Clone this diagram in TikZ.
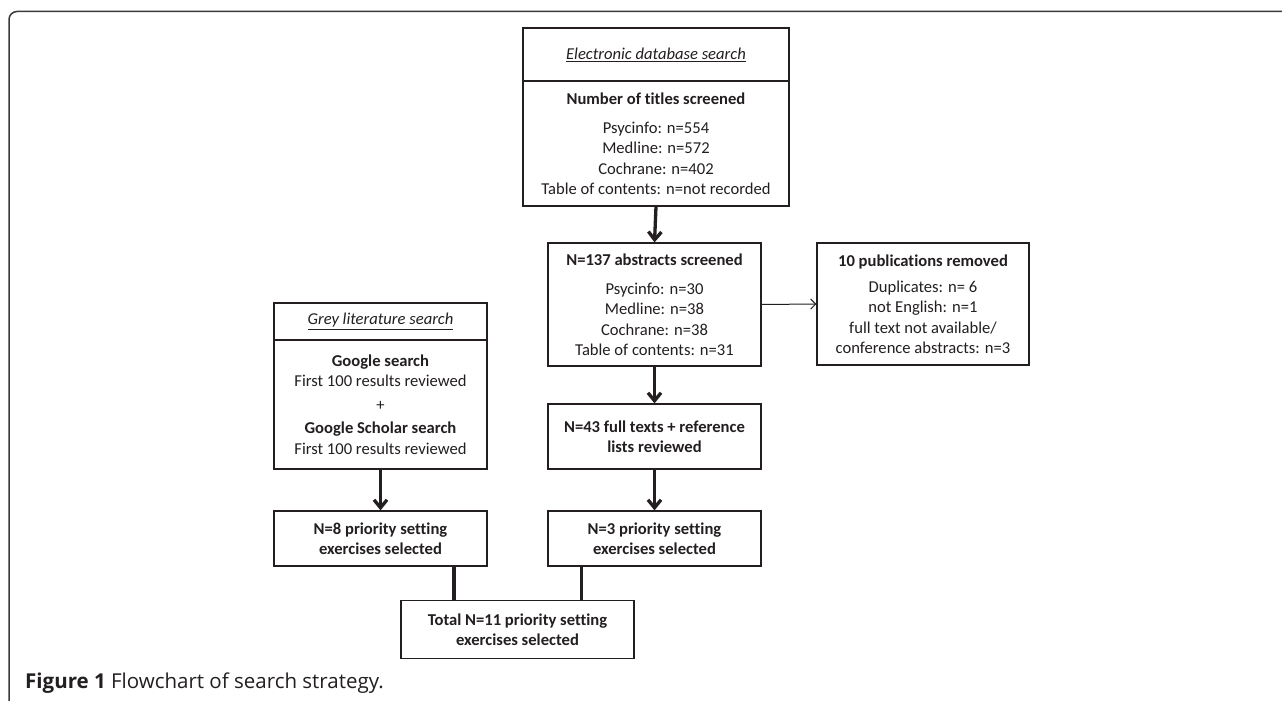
\documentclass[tikz,border=0pt]{standalone}
\usepackage{fontspec}
\setmainfont{Carlito}[Ligatures={NoCommon}]
\newfontfamily\capfont{Open Sans}
\usetikzlibrary{arrows.meta}
\definecolor{ink}{HTML}{231F20}
\definecolor{framec}{HTML}{3A3A3A}
\begin{document}
\begin{tikzpicture}[x=1pt,y=-1pt,
  every node/.style={text=ink},
  box/.style={draw=ink, line width=1.2pt, fill=white, inner sep=0pt, align=center,
    font=\fontsize{16.6}{20.5}\selectfont},
  thickarrow/.style={draw=ink, line width=3.3pt, -{Straight Barb[length=8pt,width=13pt]}},
  thinarrow/.style={draw=ink, line width=1pt, -{Straight Barb[length=5pt,width=10pt]}},
  thickline/.style={draw=ink, line width=3.5pt},
  framestyle/.style={draw=framec, line width=1.5pt, rounded corners=8pt}
]
\useasboundingbox (0,0) rectangle (1282,701);
\fill[white] (0,0) rectangle (1282,701);
\draw[framestyle] (1295,11.5) -- (9,11.5) -- (9,712);

% top: electronic database search
\node[box, minimum width=266pt, minimum height=53pt] (edbh) at (656,54.5)
  {\textit{\underline{Electronic database search}}};
\node[box, minimum width=266pt, minimum height=125pt] (edb) at (656,143.5)
  {\textbf{Number of titles screened}\\[8.5pt]
   Psycinfo: n=554\\ Medline: n=572\\ Cochrane: n=402\\ Table of contents: n=not recorded};

% abstracts
\node[box, minimum width=213pt, minimum height=123pt] (abs) at (654.5,304.5)
  {\textbf{N=137 abstracts screened}\\[8.5pt]
   Psycinfo: n=30\\ Medline: n=38\\ Cochrane: n=38\\ Table of contents: n=31};

% removed
\node[box, minimum width=212pt, minimum height=122pt] (rem) at (923,304)
  {\textbf{10 publications removed}\\[5.5pt]
   Duplicates: n= 6\\ not English: n=1\\ full text not available/\\ conference abstracts: n=3};

% grey literature
\node[box, minimum width=213pt, minimum height=37pt] (greyh) at (380.5,321.5)
  {\textit{\underline{Grey literature search}}};
\node[box, minimum width=213pt, minimum height=129pt] (grey) at (380.5,404.5)
  {\textbf{Google search}\\ First 100 results reviewed\\[3pt] +\\[3pt]
   \textbf{Google Scholar search}\\ First 100 results reviewed};

% full texts
\node[box, minimum width=213pt, minimum height=65pt] (full) at (654.5,436.5)
  {\textbf{N=43 full texts + reference}\\ \textbf{lists reviewed}};

% selected
\node[box, minimum width=213pt, minimum height=55pt] (n8) at (380.5,538.5)
  {\textbf{N=8 priority setting}\\ \textbf{exercises selected}};
\node[box, minimum width=213pt, minimum height=55pt] (n3) at (654.5,538.5)
  {\textbf{N=3 priority setting}\\ \textbf{exercises selected}};

% total
\node[box, minimum width=233pt, minimum height=58pt] (total) at (517.5,629.5)
  {\textbf{Total N=11 priority setting}\\ \textbf{exercises selected}};

% connectors
\draw[thickarrow] (edb.south) -- (abs.north);
\draw[thinarrow] (abs.east) -- (rem.west);
\draw[thickarrow] (abs.south) -- (full.north);
\draw[thickarrow] (grey.south) -- (n8.north);
\draw[thickarrow] (full.south) -- (n3.north);
\draw[thickline] ([xshift=73.5pt]n8.south) -- ([xshift=73.5pt]n8.south |- total.north);
\draw[thickline] ([xshift=-73pt]n3.south) -- ([xshift=-73pt]n3.south |- total.north);

% caption
\node[anchor=west, inner sep=0pt, font=\capfont\fontsize{20.5}{24}\selectfont] (cap) at (25,683)
  {\textbf{Figure 1} Flowchart of search strategy.};
\end{tikzpicture}
\end{document}
